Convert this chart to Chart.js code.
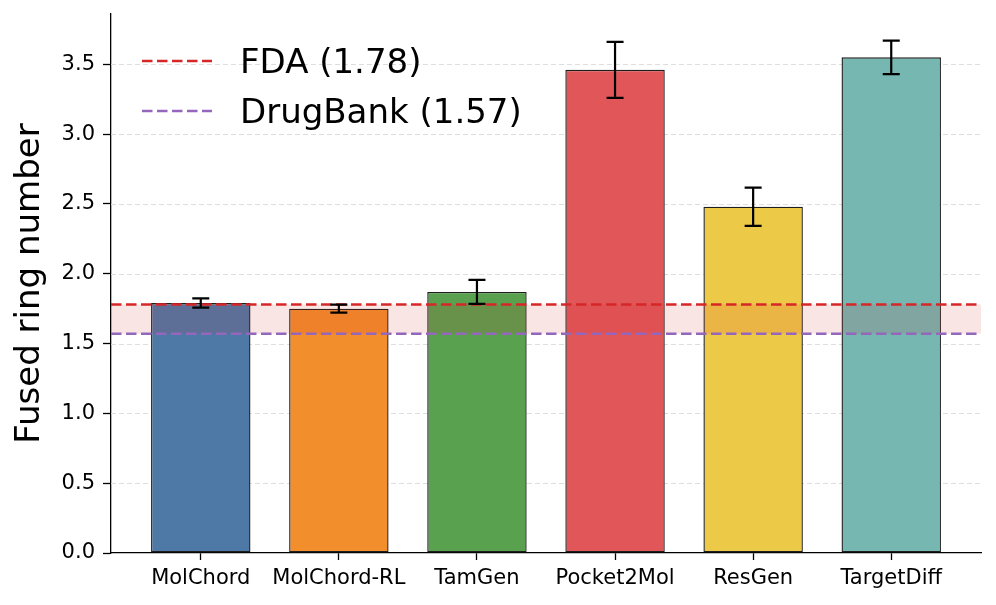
<!DOCTYPE html>
<html>
<head>
<meta charset="utf-8">
<script src="https://cdn.jsdelivr.net/npm/chart.js@4"></script>
<style>
html,body{margin:0;padding:0;background:#fff;}
#c{display:block;}
</style>
</head>
<body>
<canvas id="c" width="996" height="605"></canvas>
<script>
const categories = ['MolChord','MolChord-RL','TamGen','Pocket2Mol','ResGen','TargetDiff'];
const means = [1.79, 1.75, 1.87, 3.46, 2.48, 3.55];
const errors = [0.033, 0.029, 0.086, 0.20, 0.137, 0.12];
const barColors = ['#4e79a7','#f28e2b','#59a14f','#e15759','#edc948','#76b7b2'];
const refNames = ['FDA (1.78)', 'DrugBank (1.57)'];
const refValues = [1.78, 1.57];
const refColors = ['#d62728', '#9467bd'];
const yTickValues = [0, 0.5, 1.0, 1.5, 2.0, 2.5, 3.0, 3.5];
const yLabel = 'Fused ring number';

const FONT = "'DejaVu Sans', 'Liberation Sans', sans-serif";
const DASH = [10.5, 4.5];

const overlay = {
  id: 'overlay',
  beforeDatasetsDraw(chart) {
    const {ctx, chartArea: a, scales: {y}} = chart;
    ctx.save();
    ctx.strokeStyle = '#dddddd';
    ctx.lineWidth = 1;
    ctx.setLineDash([5, 3]);
    yTickValues.forEach(v => {
      if (v === 0) return;
      const py = Math.round(y.getPixelForValue(v)) + 0.5;
      ctx.beginPath();
      ctx.moveTo(a.left, py);
      ctx.lineTo(a.right, py);
      ctx.stroke();
    });
    ctx.restore();
  },
  afterDatasetsDraw(chart) {
    const {ctx, chartArea: a, scales: {y}} = chart;
    ctx.save();
    // shaded band between reference values
    const y1 = y.getPixelForValue(Math.max(...refValues));
    const y2 = y.getPixelForValue(Math.min(...refValues));
    ctx.fillStyle = 'rgba(214,39,40,0.12)';
    ctx.fillRect(a.left, y1, a.right - a.left, y2 - y1);
    // reference lines
    ctx.lineWidth = 2.6;
    ctx.setLineDash(DASH);
    refValues.forEach((v, i) => {
      const py = y.getPixelForValue(v);
      ctx.strokeStyle = refColors[i];
      ctx.beginPath();
      ctx.moveTo(a.left, py);
      ctx.lineTo(a.right, py);
      ctx.stroke();
    });
    // error bars
    ctx.setLineDash([]);
    ctx.strokeStyle = '#000';
    ctx.lineWidth = 2.2;
    const meta = chart.getDatasetMeta(0);
    meta.data.forEach((bar, i) => {
      const top = y.getPixelForValue(means[i] + errors[i]);
      const bot = y.getPixelForValue(means[i] - errors[i]);
      const cx = bar.x;
      ctx.beginPath();
      ctx.moveTo(cx, top); ctx.lineTo(cx, bot);
      ctx.moveTo(cx - 8.5, top); ctx.lineTo(cx + 8.5, top);
      ctx.moveTo(cx - 8.5, bot); ctx.lineTo(cx + 8.5, bot);
      ctx.stroke();
    });
    // legend
    ctx.font = '34px ' + FONT;
    ctx.textBaseline = 'alphabetic';
    ctx.textAlign = 'left';
    refNames.forEach((name, i) => {
      const ly = a.top + 47 + i * 50;
      ctx.strokeStyle = refColors[i];
      ctx.lineWidth = 2.6;
      ctx.setLineDash(DASH);
      ctx.beginPath();
      ctx.moveTo(a.left + 31, ly);
      ctx.lineTo(a.left + 101, ly);
      ctx.stroke();
      ctx.setLineDash([]);
      ctx.fillStyle = '#000';
      ctx.fillText(name, a.left + 129, ly + 12);
    });
    ctx.restore();
  }
};

new Chart(document.getElementById('c'), {
  type: 'bar',
  data: {
    datasets: [{
      data: categories.map((c, i) => ({x: i, y: means[i]})),
      backgroundColor: barColors,
      borderColor: '#1e1e1e',
      borderWidth: 1.4,
      borderSkipped: false,
      categoryPercentage: 1.0,
      barPercentage: 0.72
    }]
  },
  options: {
    responsive: false,
    animation: false,
    devicePixelRatio: 1,
    layout: {padding: {top: 14, right: 15, left: 0, bottom: 0}},
    plugins: {legend: {display: false}, tooltip: {enabled: false}},
    scales: {
      x: {
        type: 'linear',
        min: -0.65,
        max: 5.65,
        offset: false,
        afterBuildTicks: s => { s.ticks = categories.map((c, i) => ({value: i})); },
        afterFit: s => { s.height = 52; s.paddingLeft = 0; s.paddingRight = 0; s.paddingTop = 0; s.paddingBottom = 0; },
        ticks: {
          callback: v => categories[v],
          font: {family: FONT, size: 21},
          color: '#000',
          padding: 6,
          maxRotation: 0,
          autoSkip: false
        },
        grid: {offset: false, drawOnChartArea: false, drawTicks: true, tickLength: 7, tickColor: '#000', tickWidth: 1.3},
        border: {display: true, color: '#000', width: 1.3}
      },
      y: {
        min: 0,
        max: 3.86,
        afterBuildTicks: s => { s.ticks = yTickValues.map(v => ({value: v})); },
        afterFit: s => { s.width = 111; s.paddingTop = 0; s.paddingBottom = 0; s.paddingLeft = 0; s.paddingRight = 0; },
        ticks: {
          callback: v => v.toFixed(1),
          font: {family: FONT, size: 21},
          color: '#000',
          padding: 8
        },
        grid: {drawOnChartArea: false, drawTicks: true, tickLength: 8, tickColor: '#000', tickWidth: 1.3},
        border: {display: true, color: '#000', width: 1.3},
        title: {
          display: true,
          text: yLabel,
          font: {family: FONT, size: 34},
          color: '#000',
          padding: {top: 9.5, bottom: 0}
        }
      }
    }
  },
  plugins: [overlay]
});
</script>
</body>
</html>
